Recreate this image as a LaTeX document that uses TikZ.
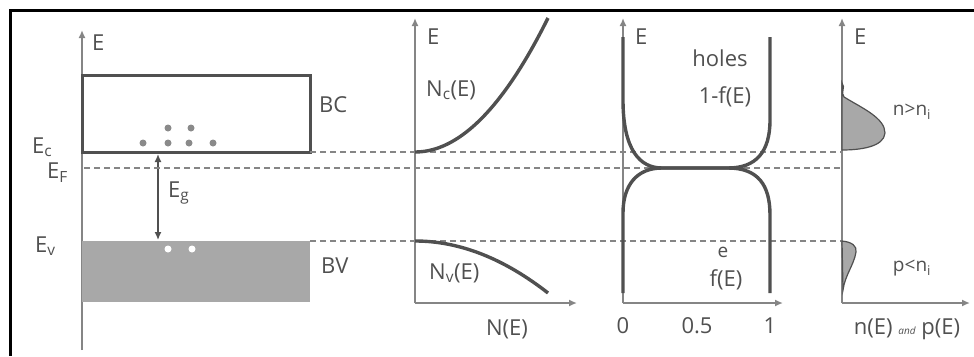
\documentclass[tikz,border=0pt]{standalone}
\usepackage{fontspec}
\setmainfont{Open Sans}
\usetikzlibrary{arrows.meta,positioning}
\definecolor{ink}{HTML}{505050}
\definecolor{axisgray}{HTML}{858585}
\definecolor{bandfill}{HTML}{A8A8A8}
\definecolor{dotgray}{HTML}{8A8A8A}
\tikzset{axis/.style={draw=axisgray,line width=1.8pt,-{Latex[length=8pt,width=7pt]}},
  level/.style={draw=axisgray,line width=1.8pt,dash pattern=on 6pt off 4pt},
  curve/.style={draw=ink,line width=3.4pt},
  lbl/.style={text=ink,font=\fontsize{22}{24}\selectfont,inner sep=0pt},
  small/.style={text=ink,font=\fontsize{19}{21}\selectfont,inner sep=0pt}}
\newcommand{\lowsub}[1]{\textsubscript{#1}}
\newcommand{\eaxis}[3]{% x, tip, name
  \coordinate (#3top) at (#1,#2);
  \coordinate (#3base) at (#1,303);
  \draw[axis] (#3base) -- (#3top);
  \node[lbl,anchor=west] (#3E) at ({#1+12},{#2+19}) {E};}

\begin{document}
\begin{tikzpicture}[x=1pt,y=-1pt]
  \useasboundingbox (0,0) rectangle (974,356);
  \draw[black,line width=3pt] (974,10) -- (10,10) -- (10,356);

  % band diagram
  \coordinate (bandbase) at (82,350);
  \coordinate (bandtop) at (82,30);
  \draw[axis] (bandbase) -- (bandtop);
  \node[lbl,anchor=west] (bandE) at (92,43) {E};
  \fill[bandfill] (82,241) rectangle (310,302);
  \draw[ink,line width=3pt] (82,75) rectangle (310,152);
  \foreach \dx/\dy in {143/143,168/143,189/143,213/143,168/128,191/128}
    \fill[dotgray] (\dx,\dy) circle (3.5);
  \foreach \dx in {168,192} \fill[white] (\dx,249) circle (3.5);
  \coordinate (gaptop) at (158,154);
  \coordinate (gapbot) at (158,240);
  \draw[ink,line width=1.4pt,{Latex[length=8pt,width=7pt]}-{Latex[length=8pt,width=7pt]}] (gaptop) -- (gapbot);
  \node[lbl,anchor=west] (Eg) at (168,193) {E\lowsub{g}};
  \node[lbl,anchor=west] (Ec) at (32,147) {E\lowsub{c}};
  \node[lbl,anchor=west] (EF) at (47,173) {E\lowsub{F}};
  \node[lbl,anchor=west] (Ev) at (35,246) {E\lowsub{v}};
  \node[lbl,anchor=west] (BC) at (319,105) {BC};
  \node[lbl,anchor=west] (BV) at (321,266) {BV};

  % levels
  \draw[level] (310,152) -- (842,152);
  \draw[level] (84,168) -- (842,168);
  \draw[level] (310,241) -- (842,241);

  % density of states
  \eaxis{415}{18}{dos}
  \draw[axis] (dosbase) -- (577,303);
  \draw[curve] plot[domain=0:133,samples=40] ({415+\x},{152-134*(\x/133)^2});
  \draw[curve] plot[domain=0:133,samples=40] ({415+\x},{241+52*(\x/133)^2});
  \node[lbl,anchor=west] (Nc) at (426,90) {N\lowsub{c}(E)};
  \node[lbl,anchor=west] (Nv) at (429,273) {N\lowsub{v}(E)};
  \node[lbl] (NE) at (507,329) {N(E)};

  % Fermi-Dirac
  \eaxis{623}{18}{fd}
  \draw[axis] (fdbase) -- (783,303);
  \draw[curve] (623,37) -- (623,100) .. controls (623,150) and (640,168) .. (662,168)
    -- (728,168) .. controls (758,168) and (770,185) .. (770,215) -- (770,293);
  \draw[curve] (770,37) -- (770,120) .. controls (770,152) and (756,168) .. (728,168)
    -- (662,168) .. controls (637,168) and (623,185) .. (623,213) -- (623,293);
  \node[lbl] (holes) at (720,58) {holes};
  \node[lbl] (hf) at (725,97) {1-f(E)};
  \node[small] (el) at (723,252) {e};
  \node[lbl] (ef) at (726,280) {f(E)};
  \node[lbl] (t0) at (623,326) {0};
  \node[lbl] (t5) at (697,326) {0.5};
  \node[lbl] (t1) at (770,326) {1};

  % carriers
  \eaxis{842}{18}{car}
  \draw[axis] (carbase) -- (970,303);
  \filldraw[fill=bandfill,draw=ink,line width=1.2pt] (842,83) .. controls (846,88) and (840,92) .. (844,97)
    .. controls (862,108) and (885,118) .. (885,133) .. controls (884,147) and (860,150) .. (842,150) -- cycle;
  \filldraw[fill=bandfill,draw=ink,line width=1.2pt] (842,241) .. controls (852,242) and (857,246) .. (856,252)
    .. controls (854,265) and (845,275) .. (843,290) -- cycle;
  \node[small] (nn) at (912,112) {n>n\lowsub{i}};
  \node[small] (pn) at (912,268) {p<n\lowsub{i}};
  \node[lbl] (np) at (907,329) {n(E) {\fontsize{10}{12}\selectfont\itshape and} p(E)};
\end{tikzpicture}
\end{document}
